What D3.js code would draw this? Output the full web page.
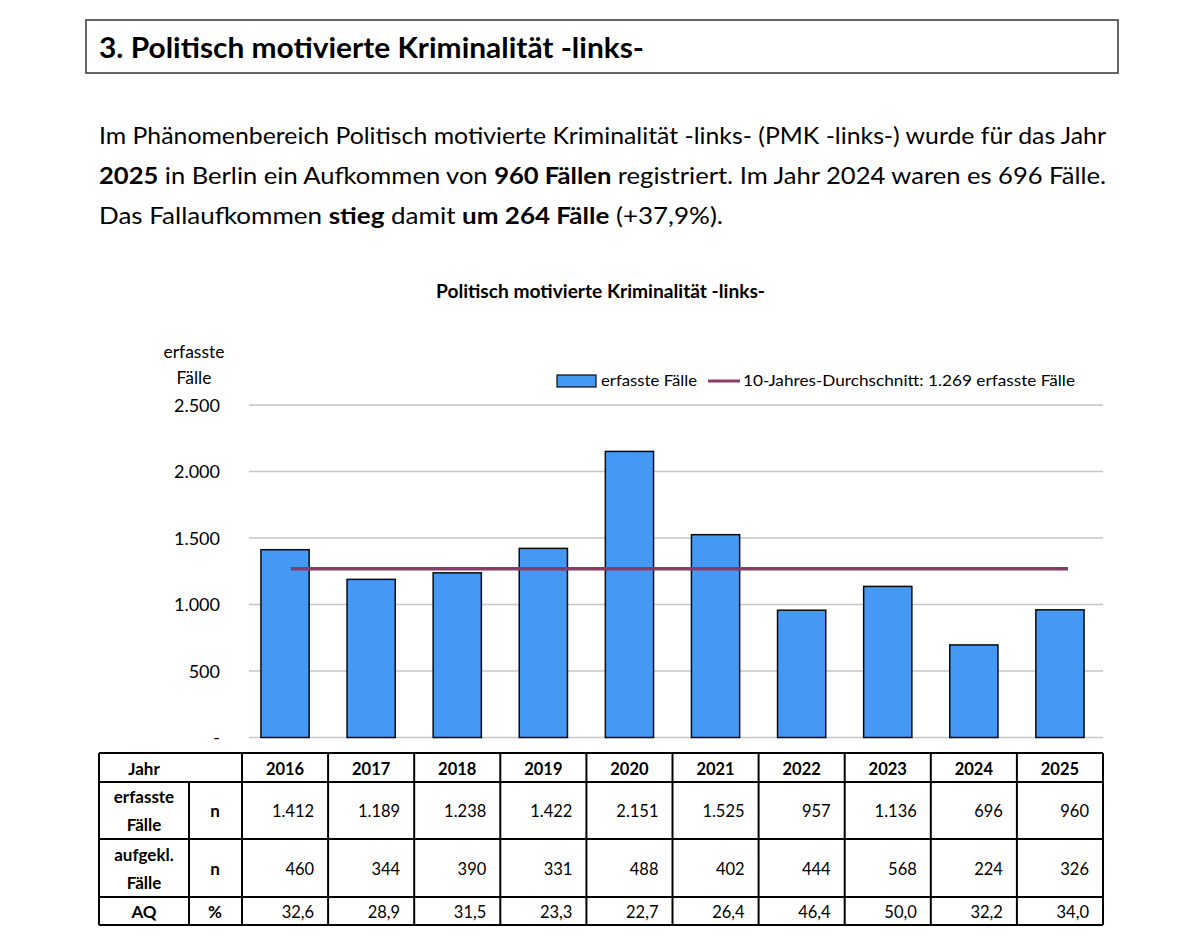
<!DOCTYPE html>
<meta charset="utf-8">
<style>
  body { margin: 0; background: #fff; }
  svg text { font-family: Lato, "Noto Sans", sans-serif; fill: #000; }
</style>
<body>
<div id="chart"></div>
<script src="https://d3js.org/d3.v7.min.js"></script>
<script>
// data
const years  = ["2016","2017","2018","2019","2020","2021","2022","2023","2024","2025"];
const cases  = [1412, 1189, 1238, 1422, 2151, 1525, 957, 1136, 696, 960];
const solved = [460, 344, 390, 331, 488, 402, 444, 568, 224, 326];
const aq     = [32.6, 28.9, 31.5, 23.3, 22.7, 26.4, 46.4, 50.0, 32.2, 34.0];
const avg10  = 1269;
const yTicks = [0, 500, 1000, 1500, 2000, 2500];

const fmtInt = d3.formatLocale({decimal: ",", thousands: ".", grouping: [3], currency: ["", "€"]});
const nf = fmtInt.format(",d");
const pf = fmtInt.format(",.1f");

const W = 1200, H = 946;
const svg = d3.select("#chart").append("svg")
  .attr("width", W).attr("height", H);

// heading box
svg.append("rect")
  .attr("x", 86).attr("y", 20).attr("width", 1032).attr("height", 53)
  .attr("fill", "none").attr("stroke", "#333").attr("stroke-width", 1.5);
svg.append("text")
  .attr("x", 99).attr("y", 58)
  .attr("font-size", 28).attr("font-weight", 700)
  .attr("textLength", 545).attr("lengthAdjust", "spacingAndGlyphs")
  .text("3.  Politisch motivierte Kriminalität -links-");

// paragraph
const para = [
  [["Im Phänomenbereich Politisch motivierte Kriminalität -links- (PMK -links-) wurde für das Jahr", 0]],
  [["2025", 1], [" in Berlin ein Aufkommen von ", 0], ["960 Fällen", 1], [" registriert. Im Jahr 2024 waren es 696 Fälle.", 0]],
  [["Das Fallaufkommen ", 0], ["stieg", 1], [" damit ", 0], ["um 264 Fälle", 1], [" (+37,9%).", 0]]
];
const paraLen = [1007, 1007, 624];
para.forEach((line, i) => {
  const t = svg.append("text")
    .attr("x", 99).attr("y", 144 + i * 40)
    .attr("font-size", 22.5)
    .attr("textLength", paraLen[i]).attr("lengthAdjust", "spacingAndGlyphs");
  line.forEach(p => t.append("tspan").attr("font-weight", p[1] ? 700 : 400).text(p[0]));
});

// chart title
svg.append("text")
  .attr("x", 436).attr("y", 298)
  .attr("font-size", 18).attr("font-weight", 700)
  .attr("textLength", 329).attr("lengthAdjust", "spacingAndGlyphs")
  .text("Politisch motivierte Kriminalität -links-");

// scales
const x = d3.scaleBand().domain(years).range([242, 1103]).paddingInner(0.44).paddingOuter(0.22);
const col = d3.scaleBand().domain(years).range([242, 1103]);
const y = d3.scaleLinear().domain([0, 2500]).range([737.5, 405]);

// gridlines
svg.append("g").selectAll("line").data(yTicks).join("line")
  .attr("x1", 249).attr("x2", 1103)
  .attr("y1", d => y(d)).attr("y2", d => y(d))
  .attr("stroke", "#c6c6c6").attr("stroke-width", 1.5);

// y axis labels
const yAxis = svg.append("g").attr("transform", "translate(220,0)")
  .call(d3.axisLeft(y).tickValues(yTicks).tickSize(0).tickPadding(0)
    .tickFormat(d => d === 0 ? "-" : nf(d)));
yAxis.select(".domain").remove();
yAxis.selectAll("text")
  .attr("font-family", "'Liberation Sans', Arial, sans-serif")
  .attr("font-size", 18).attr("fill", "#000").attr("dy", "0.36em");

svg.append("text").attr("x", 194).attr("y", 358).attr("text-anchor", "middle")
  .attr("font-size", 17.5).text("erfasste");
svg.append("text").attr("x", 194).attr("y", 384).attr("text-anchor", "middle")
  .attr("font-size", 17.5).text("Fälle");

// bars
svg.append("g").selectAll("rect").data(years).join("rect")
  .attr("x", (d) => x(d))
  .attr("y", (d, i) => y(cases[i]))
  .attr("width", x.bandwidth())
  .attr("height", (d, i) => y(0) - y(cases[i]))
  .attr("fill", "#4598f4").attr("stroke", "#0a0a0a").attr("stroke-width", 1.5);

// 10-year average line
svg.append("line")
  .attr("x1", x(years[0]) + x.bandwidth() / 2 + 6)
  .attr("x2", x(years[years.length - 1]) + x.bandwidth() / 2 + 8)
  .attr("y1", y(avg10)).attr("y2", y(avg10))
  .attr("stroke", "#8c3a66").attr("stroke-width", 3.5);

// legend
const lg = svg.append("g");
lg.append("rect").attr("x", 557).attr("y", 375).attr("width", 39).attr("height", 12)
  .attr("fill", "#4598f4").attr("stroke", "#0a0a0a").attr("stroke-width", 1.2);
lg.append("text").attr("x", 601).attr("y", 386).attr("font-size", 16)
  .attr("textLength", 96).attr("lengthAdjust", "spacingAndGlyphs").text("erfasste Fälle");
lg.append("line").attr("x1", 708).attr("x2", 740).attr("y1", 381).attr("y2", 381)
  .attr("stroke", "#8c3a66").attr("stroke-width", 3);
lg.append("text").attr("x", 743).attr("y", 386).attr("font-size", 16)
  .attr("textLength", 332).attr("lengthAdjust", "spacingAndGlyphs")
  .text("10-Jahres-Durchschnitt: " + nf(avg10) + " erfasste Fälle");

// table
const tb = svg.append("g");
const rows = [753, 782, 839, 897, 925];
const left = 99, c1 = 189, c2 = 242, right = 1103;
const stroke = l => l.attr("stroke", "#000").attr("stroke-width", 2);
rows.forEach(r => stroke(tb.append("line").attr("x1", left).attr("x2", right).attr("y1", r).attr("y2", r)));
stroke(tb.append("line").attr("x1", left).attr("x2", left).attr("y1", rows[0]).attr("y2", rows[4]));
stroke(tb.append("line").attr("x1", c1).attr("x2", c1).attr("y1", rows[1]).attr("y2", rows[4]));
stroke(tb.append("line").attr("x1", c2).attr("x2", c2).attr("y1", rows[0]).attr("y2", rows[4]));
years.forEach(d => stroke(tb.append("line").attr("x1", col(d) + col.bandwidth()).attr("x2", col(d) + col.bandwidth())
  .attr("y1", rows[0]).attr("y2", rows[4])));

const bold = (xx, yy, s) => tb.append("text").attr("x", xx).attr("y", yy)
  .attr("text-anchor", "middle").attr("font-size", 17).attr("font-weight", 700).text(s);
bold(144, 775, "Jahr");
bold(144, 803, "erfasste"); bold(144, 831, "Fälle");
bold(144, 861, "aufgekl."); bold(144, 889, "Fälle");
bold(144, 918, "AQ");
bold(215, 817, "n"); bold(215, 875, "n"); bold(215, 918, "%");

tb.selectAll(".yr").data(years).join("text")
  .attr("x", d => col(d) + col.bandwidth() / 2).attr("y", 775)
  .attr("text-anchor", "middle").attr("font-size", 16.5).attr("font-weight", 700)
  .text(d => d);

const valRow = (vals, yy, f) => tb.append("g").selectAll("text").data(vals).join("text")
  .attr("x", (d, i) => col(years[i]) + col.bandwidth() - 14).attr("y", yy)
  .attr("text-anchor", "end").attr("font-size", 16.5).text(f);
valRow(cases, 817, nf);
valRow(solved, 875, nf);
valRow(aq, 918, pf);
</script>
</body>
